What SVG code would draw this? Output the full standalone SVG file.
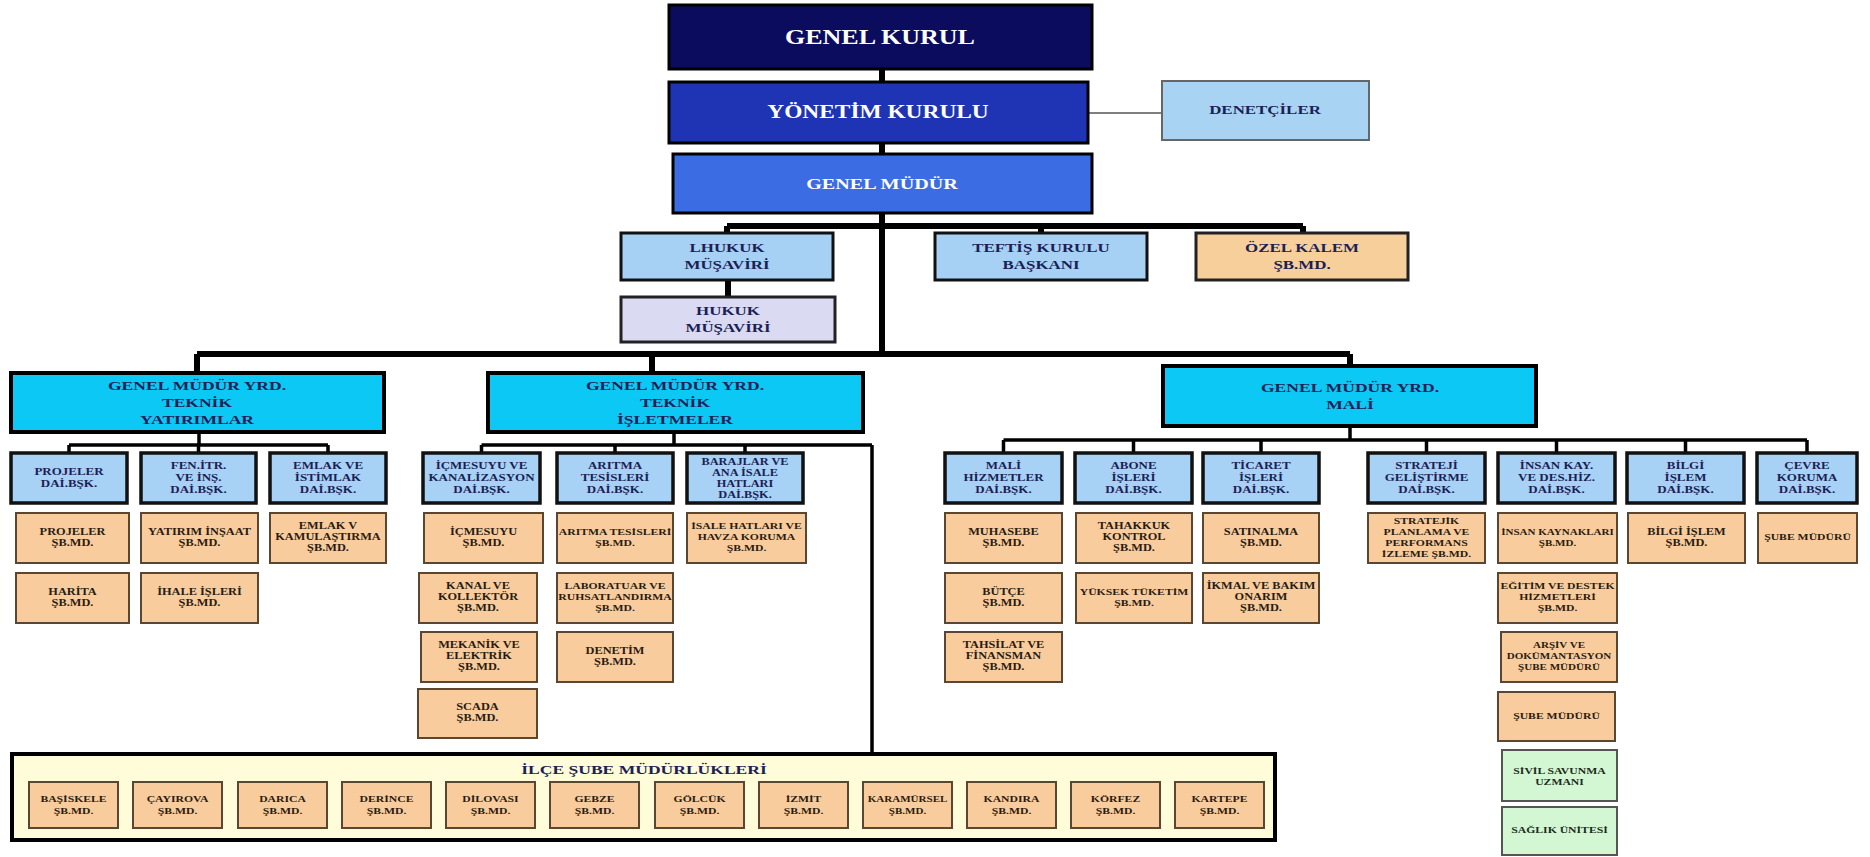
<svg xmlns="http://www.w3.org/2000/svg" width="1870" height="857" viewBox="0 0 1870 857">
<style>
text{font-family:"Liberation Serif","Times New Roman",serif;font-weight:bold;text-anchor:middle}
.w{fill:#fff}.n{fill:#1b1f55}.o{fill:#2a1c10}.g{fill:#1d2a1d}
.gk{fill:#0c0c5e;stroke:#000;stroke-width:3}
.yk{fill:#1e34b4;stroke:#000;stroke-width:3}
.gm{fill:#3b6ce4;stroke:#000;stroke-width:3}
.den{fill:#a9d3f3;stroke:#666;stroke-width:2}
.lb{fill:#a6d0f4;stroke:#111;stroke-width:3}
.pk{fill:#f7cf9b;stroke:#222;stroke-width:3}
.lv{fill:#dadaf3;stroke:#222;stroke-width:3}
.gmy{fill:#0cc8f4;stroke:#000;stroke-width:4}
.bl{fill:#a7d1f5;stroke:#111;stroke-width:3.5}
.or{fill:#f9cc9e;stroke:#5b4632;stroke-width:2}
.gr{fill:#d3f7d3;stroke:#555;stroke-width:2}
.ilce{fill:#fffcd9;stroke:#000;stroke-width:4}
.c1{stroke:#000;stroke-width:6;fill:none}
.c2{stroke:#000;stroke-width:3.5;fill:none}
.c3{stroke:#555;stroke-width:1.5;fill:none}
.f20{font-size:20px}.f18{font-size:18px}.f155{font-size:15.5px}.f13{font-size:13px}.f135{font-size:13.5px}.f10{font-size:10px}.f95{font-size:9.5px}.f9{font-size:9px}.f85{font-size:8.5px}
</style>
<rect width="1870" height="857" fill="#fff"/>
<g id="connectors">
<path class="c1" d="M882,69V82M882,143V154M882,213V354M727,226H1303M727,226V233M1041,226V233M1303,226V233M728,280V297M197,354H1350M197,354V373M652,354V373M1350,354V366"/>
<path class="c2" d="M199,432V445M69,445H328M69,445V453M198.5,445V453M328,445V453M674,432V445M481.5,445H872M481.5,445V453M615,445V453M745,445V453M872,445V754M1350,426V440M1003.5,440H1807M1003.5,440V453M1133.5,440V453M1261,440V453M1426.5,440V453M1556.5,440V453M1685.5,440V453M1807,440V453"/>
<path class="c3" d="M1088,113H1162"/>
</g>
<g id="genel-kurul"><rect class="gk" x="669" y="5" width="423" height="64"/><text class="w f20" transform="translate(880 0) scale(1.3 1)" y="44">GENEL KURUL</text></g>
<g id="yonetim-kurulu"><rect class="yk" x="669" y="82" width="419" height="61"/><text class="w f18" transform="translate(878 0) scale(1.3 1)" y="118">YÖNETİM KURULU</text></g>
<g id="genel-mudur"><rect class="gm" x="673" y="154" width="419" height="59"/><text class="w f155" transform="translate(882 0) scale(1.3 1)" y="189">GENEL MÜDÜR</text></g>
<g id="denetciler"><rect class="den" x="1162" y="81" width="207" height="59"/><text class="n f13" transform="translate(1265 0) scale(1.3 1)" y="114">DENETÇİLER</text></g>
<g id="lhukuk"><rect class="lb" x="621" y="233" width="212" height="47"/><text class="n f13" transform="translate(727 0) scale(1.3 1)"><tspan x="0" y="252">LHUKUK</tspan><tspan x="0" y="269">MÜŞAVİRİ</tspan></text></g>
<g id="teftis"><rect class="lb" x="935" y="233" width="212" height="47"/><text class="n f13" transform="translate(1041 0) scale(1.3 1)"><tspan x="0" y="252">TEFTİŞ KURULU</tspan><tspan x="0" y="269">BAŞKANI</tspan></text></g>
<g id="ozel-kalem"><rect class="pk" x="1196" y="233" width="212" height="47"/><text class="n f13" transform="translate(1302 0) scale(1.3 1)"><tspan x="0" y="252">ÖZEL KALEM</tspan><tspan x="0" y="269">ŞB.MD.</tspan></text></g>
<g id="hukuk"><rect class="lv" x="621" y="297" width="214" height="45"/><text class="n f13" transform="translate(728 0) scale(1.3 1)"><tspan x="0" y="315">HUKUK</tspan><tspan x="0" y="332">MÜŞAVİRİ</tspan></text></g>
<g id="gmy-yatirimlar"><rect class="gmy" x="11" y="373" width="373" height="59"/><text class="n f135" transform="translate(197 0) scale(1.3 1)"><tspan x="0" y="390.5">GENEL MÜDÜR YRD.</tspan><tspan x="0" y="407.5">TEKNİK</tspan><tspan x="0" y="424.5">YATIRIMLAR</tspan></text></g>
<g id="gmy-isletmeler"><rect class="gmy" x="488" y="373" width="375" height="59"/><text class="n f135" transform="translate(675 0) scale(1.3 1)"><tspan x="0" y="390.5">GENEL MÜDÜR YRD.</tspan><tspan x="0" y="407.5">TEKNİK</tspan><tspan x="0" y="424.5">İŞLETMELER</tspan></text></g>
<g id="gmy-mali"><rect class="gmy" x="1163" y="366" width="373" height="60"/><text class="n f135" transform="translate(1350 0) scale(1.3 1)"><tspan x="0" y="392">GENEL MÜDÜR YRD.</tspan><tspan x="0" y="409">MALİ</tspan></text></g>
<g id="projeler-db"><rect class="bl" x="11" y="453" width="116" height="50"/><text class="n f10" transform="translate(69 0) scale(1.3 1)"><tspan x="0" y="475.3">PROJELER</tspan><tspan x="0" y="487.3">DAİ.BŞK.</tspan></text></g>
<g id="fen-db"><rect class="bl" x="141" y="453" width="115" height="50"/><text class="n f10" transform="translate(198.5 0) scale(1.3 1)"><tspan x="0" y="469.3">FEN.İTR.</tspan><tspan x="0" y="481.3">VE İNŞ.</tspan><tspan x="0" y="493.3">DAİ.BŞK.</tspan></text></g>
<g id="emlak-db"><rect class="bl" x="270" y="453" width="116" height="50"/><text class="n f10" transform="translate(328 0) scale(1.3 1)"><tspan x="0" y="469.3">EMLAK VE</tspan><tspan x="0" y="481.3">İSTİMLAK</tspan><tspan x="0" y="493.3">DAİ.BŞK.</tspan></text></g>
<g id="icmesuyu-db"><rect class="bl" x="423" y="453" width="117" height="50"/><text class="n f10" transform="translate(481.5 0) scale(1.3 1)"><tspan x="0" y="469.3">İÇMESUYU VE</tspan><tspan x="0" y="481.3">KANALİZASYON</tspan><tspan x="0" y="493.3">DAİ.BŞK.</tspan></text></g>
<g id="aritma-db"><rect class="bl" x="557" y="453" width="116" height="50"/><text class="n f10" transform="translate(615 0) scale(1.3 1)"><tspan x="0" y="469.3">ARITMA</tspan><tspan x="0" y="481.3">TESİSLERİ</tspan><tspan x="0" y="493.3">DAİ.BŞK.</tspan></text></g>
<g id="barajlar-db"><rect class="bl" x="687" y="453" width="116" height="50"/><text class="n f95" transform="translate(745 0) scale(1.3 1)"><tspan x="0" y="465">BARAJLAR VE</tspan><tspan x="0" y="476">ANA İSALE</tspan><tspan x="0" y="487">HATLARI</tspan><tspan x="0" y="498">DAİ.BŞK.</tspan></text></g>
<g id="mali-db"><rect class="bl" x="945" y="453" width="117" height="50"/><text class="n f10" transform="translate(1003.5 0) scale(1.3 1)"><tspan x="0" y="469.3">MALİ</tspan><tspan x="0" y="481.3">HİZMETLER</tspan><tspan x="0" y="493.3">DAİ.BŞK.</tspan></text></g>
<g id="abone-db"><rect class="bl" x="1075" y="453" width="117" height="50"/><text class="n f10" transform="translate(1133.5 0) scale(1.3 1)"><tspan x="0" y="469.3">ABONE</tspan><tspan x="0" y="481.3">İŞLERİ</tspan><tspan x="0" y="493.3">DAİ.BŞK.</tspan></text></g>
<g id="ticaret-db"><rect class="bl" x="1203" y="453" width="116" height="50"/><text class="n f10" transform="translate(1261 0) scale(1.3 1)"><tspan x="0" y="469.3">TİCARET</tspan><tspan x="0" y="481.3">İŞLERİ</tspan><tspan x="0" y="493.3">DAİ.BŞK.</tspan></text></g>
<g id="strateji-db"><rect class="bl" x="1368" y="453" width="117" height="50"/><text class="n f10" transform="translate(1426.5 0) scale(1.3 1)"><tspan x="0" y="469.3">STRATEJİ</tspan><tspan x="0" y="481.3">GELİŞTİRME</tspan><tspan x="0" y="493.3">DAİ.BŞK.</tspan></text></g>
<g id="insan-db"><rect class="bl" x="1498" y="453" width="117" height="50"/><text class="n f10" transform="translate(1556.5 0) scale(1.3 1)"><tspan x="0" y="469.3">İNSAN KAY.</tspan><tspan x="0" y="481.3">VE DES.HİZ.</tspan><tspan x="0" y="493.3">DAİ.BŞK.</tspan></text></g>
<g id="bilgi-db"><rect class="bl" x="1627" y="453" width="117" height="50"/><text class="n f10" transform="translate(1685.5 0) scale(1.3 1)"><tspan x="0" y="469.3">BİLGİ</tspan><tspan x="0" y="481.3">İŞLEM</tspan><tspan x="0" y="493.3">DAİ.BŞK.</tspan></text></g>
<g id="cevre-db"><rect class="bl" x="1757" y="453" width="100" height="50"/><text class="n f10" transform="translate(1807 0) scale(1.3 1)"><tspan x="0" y="469.3">ÇEVRE</tspan><tspan x="0" y="481.3">KORUMA</tspan><tspan x="0" y="493.3">DAİ.BŞK.</tspan></text></g>
<g id="projeler-sb"><rect class="or" x="16" y="513" width="113" height="50"/><text class="o f95" transform="translate(72.5 0) scale(1.3 1)"><tspan x="0" y="534.6">PROJELER</tspan><tspan x="0" y="545.6">ŞB.MD.</tspan></text></g>
<g id="yatirim-sb"><rect class="or" x="141" y="513" width="117" height="50"/><text class="o f95" transform="translate(199.5 0) scale(1.3 1)"><tspan x="0" y="534.6">YATIRIM İNŞAAT</tspan><tspan x="0" y="545.6">ŞB.MD.</tspan></text></g>
<g id="emlak-sb"><rect class="or" x="270" y="513" width="116" height="50"/><text class="o f95" transform="translate(328 0) scale(1.3 1)"><tspan x="0" y="529.1">EMLAK V</tspan><tspan x="0" y="540.1">KAMULAŞTIRMA</tspan><tspan x="0" y="551.1">ŞB.MD.</tspan></text></g>
<g id="harita-sb"><rect class="or" x="16" y="573" width="113" height="50"/><text class="o f95" transform="translate(72.5 0) scale(1.3 1)"><tspan x="0" y="594.6">HARİTA</tspan><tspan x="0" y="605.6">ŞB.MD.</tspan></text></g>
<g id="ihale-sb"><rect class="or" x="141" y="573" width="117" height="50"/><text class="o f95" transform="translate(199.5 0) scale(1.3 1)"><tspan x="0" y="594.6">İHALE İŞLERİ</tspan><tspan x="0" y="605.6">ŞB.MD.</tspan></text></g>
<g id="icmesuyu-sb"><rect class="or" x="424" y="513" width="119" height="50"/><text class="o f95" transform="translate(483.5 0) scale(1.3 1)"><tspan x="0" y="534.6">İÇMESUYU</tspan><tspan x="0" y="545.6">ŞB.MD.</tspan></text></g>
<g id="kanal-sb"><rect class="or" x="419" y="573" width="118" height="50"/><text class="o f95" transform="translate(478 0) scale(1.3 1)"><tspan x="0" y="589.1">KANAL VE</tspan><tspan x="0" y="600.1">KOLLEKTÖR</tspan><tspan x="0" y="611.1">ŞB.MD.</tspan></text></g>
<g id="mekanik-sb"><rect class="or" x="421" y="632" width="116" height="50"/><text class="o f95" transform="translate(479 0) scale(1.3 1)"><tspan x="0" y="648.1">MEKANİK VE</tspan><tspan x="0" y="659.1">ELEKTRİK</tspan><tspan x="0" y="670.1">ŞB.MD.</tspan></text></g>
<g id="scada-sb"><rect class="or" x="418" y="689" width="119" height="49"/><text class="o f95" transform="translate(477.5 0) scale(1.3 1)"><tspan x="0" y="709.6">SCADA</tspan><tspan x="0" y="720.6">ŞB.MD.</tspan></text></g>
<g id="aritma-sb"><rect class="or" x="557" y="513" width="116" height="50"/><text class="o f9" transform="translate(615 0) scale(1.3 1)"><tspan x="0" y="534.6">ARITMA TESİSLERİ</tspan><tspan x="0" y="545.6">ŞB.MD.</tspan></text></g>
<g id="laboratuar-sb"><rect class="or" x="557" y="573" width="116" height="50"/><text class="o f9" transform="translate(615 0) scale(1.3 1)"><tspan x="0" y="589.1">LABORATUAR VE</tspan><tspan x="0" y="600.1">RUHSATLANDIRMA</tspan><tspan x="0" y="611.1">ŞB.MD.</tspan></text></g>
<g id="denetim-sb"><rect class="or" x="557" y="632" width="116" height="50"/><text class="o f95" transform="translate(615 0) scale(1.3 1)"><tspan x="0" y="653.6">DENETİM</tspan><tspan x="0" y="664.6">ŞB.MD.</tspan></text></g>
<g id="isale-sb"><rect class="or" x="687" y="513" width="119" height="50"/><text class="o f9" transform="translate(746.5 0) scale(1.3 1)"><tspan x="0" y="529.1">İSALE HATLARI VE</tspan><tspan x="0" y="540.1">HAVZA KORUMA</tspan><tspan x="0" y="551.1">ŞB.MD.</tspan></text></g>
<g id="muhasebe-sb"><rect class="or" x="945" y="513" width="117" height="50"/><text class="o f95" transform="translate(1003.5 0) scale(1.3 1)"><tspan x="0" y="534.6">MUHASEBE</tspan><tspan x="0" y="545.6">ŞB.MD.</tspan></text></g>
<g id="butce-sb"><rect class="or" x="945" y="573" width="117" height="50"/><text class="o f95" transform="translate(1003.5 0) scale(1.3 1)"><tspan x="0" y="594.6">BÜTÇE</tspan><tspan x="0" y="605.6">ŞB.MD.</tspan></text></g>
<g id="tahsilat-sb"><rect class="or" x="945" y="632" width="117" height="50"/><text class="o f95" transform="translate(1003.5 0) scale(1.3 1)"><tspan x="0" y="648.1">TAHSİLAT VE</tspan><tspan x="0" y="659.1">FİNANSMAN</tspan><tspan x="0" y="670.1">ŞB.MD.</tspan></text></g>
<g id="tahakkuk-sb"><rect class="or" x="1076" y="513" width="116" height="50"/><text class="o f95" transform="translate(1134 0) scale(1.3 1)"><tspan x="0" y="529.1">TAHAKKUK</tspan><tspan x="0" y="540.1">KONTROL</tspan><tspan x="0" y="551.1">ŞB.MD.</tspan></text></g>
<g id="yuksek-sb"><rect class="or" x="1076" y="573" width="116" height="50"/><text class="o f9" transform="translate(1134 0) scale(1.3 1)"><tspan x="0" y="594.6">YÜKSEK TÜKETİM</tspan><tspan x="0" y="605.6">ŞB.MD.</tspan></text></g>
<g id="satinalma-sb"><rect class="or" x="1203" y="513" width="116" height="50"/><text class="o f95" transform="translate(1261 0) scale(1.3 1)"><tspan x="0" y="534.6">SATINALMA</tspan><tspan x="0" y="545.6">ŞB.MD.</tspan></text></g>
<g id="ikmal-sb"><rect class="or" x="1203" y="573" width="116" height="50"/><text class="o f95" transform="translate(1261 0) scale(1.3 1)"><tspan x="0" y="589.1">İKMAL VE BAKIM</tspan><tspan x="0" y="600.1">ONARIM</tspan><tspan x="0" y="611.1">ŞB.MD.</tspan></text></g>
<g id="stratejik-sb"><rect class="or" x="1368" y="513" width="117" height="50"/><text class="o f9" transform="translate(1426.5 0) scale(1.3 1)"><tspan x="0" y="524">STRATEJİK</tspan><tspan x="0" y="535">PLANLAMA VE</tspan><tspan x="0" y="546">PERFORMANS</tspan><tspan x="0" y="557">İZLEME ŞB.MD.</tspan></text></g>
<g id="insan-sb"><rect class="or" x="1498" y="513" width="119" height="50"/><text class="o f85" transform="translate(1557.5 0) scale(1.3 1)"><tspan x="0" y="534.6">İNSAN KAYNAKLARI</tspan><tspan x="0" y="545.6">ŞB.MD.</tspan></text></g>
<g id="egitim-sb"><rect class="or" x="1498" y="573" width="119" height="50"/><text class="o f9" transform="translate(1557.5 0) scale(1.3 1)"><tspan x="0" y="589.1">EĞİTİM VE DESTEK</tspan><tspan x="0" y="600.1">HİZMETLERİ</tspan><tspan x="0" y="611.1">ŞB.MD.</tspan></text></g>
<g id="arsiv-sb"><rect class="or" x="1501" y="632" width="116" height="50"/><text class="o f85" transform="translate(1559 0) scale(1.3 1)"><tspan x="0" y="648.1">ARŞİV VE</tspan><tspan x="0" y="659.1">DOKÜMANTASYON</tspan><tspan x="0" y="670.1">ŞUBE MÜDÜRÜ</tspan></text></g>
<g id="sube-mudur-ik"><rect class="or" x="1498" y="692" width="117" height="49"/><text class="o f9" transform="translate(1556.5 0) scale(1.3 1)" y="719">ŞUBE MÜDÜRÜ</text></g>
<g id="sivil-savunma"><rect class="gr" x="1502" y="750" width="115" height="51"/><text class="g f9" transform="translate(1559.5 0) scale(1.3 1)"><tspan x="0" y="773.6">SİVİL SAVUNMA</tspan><tspan x="0" y="784.6">UZMANI</tspan></text></g>
<g id="saglik"><rect class="gr" x="1502" y="807" width="115" height="48"/><text class="g f9" transform="translate(1559.5 0) scale(1.3 1)" y="833">SAĞLIK ÜNİTESİ</text></g>
<g id="bilgi-sb"><rect class="or" x="1628" y="513" width="117" height="50"/><text class="o f95" transform="translate(1686.5 0) scale(1.3 1)"><tspan x="0" y="534.6">BİLGİ İŞLEM</tspan><tspan x="0" y="545.6">ŞB.MD.</tspan></text></g>
<g id="cevre-sb"><rect class="or" x="1758" y="513" width="99" height="50"/><text class="o f9" transform="translate(1807.5 0) scale(1.3 1)" y="540">ŞUBE MÜDÜRÜ</text></g>
<g id="ilce">
<rect class="ilce" x="12" y="754" width="1263" height="86"/>
<text class="n f135" transform="translate(644 0) scale(1.3 1)" y="774">İLÇE ŞUBE MÜDÜRLÜKLERİ</text>
</g>
<g id="basiskele"><rect class="or" x="29" y="782" width="89" height="46"/><text class="o f9" transform="translate(73.5 0) scale(1.3 1)"><tspan x="0" y="802">BAŞİSKELE</tspan><tspan x="0" y="814">ŞB.MD.</tspan></text></g>
<g id="cayirova"><rect class="or" x="133" y="782" width="89" height="46"/><text class="o f9" transform="translate(177.5 0) scale(1.3 1)"><tspan x="0" y="802">ÇAYIROVA</tspan><tspan x="0" y="814">ŞB.MD.</tspan></text></g>
<g id="darica"><rect class="or" x="238" y="782" width="89" height="46"/><text class="o f9" transform="translate(282.5 0) scale(1.3 1)"><tspan x="0" y="802">DARICA</tspan><tspan x="0" y="814">ŞB.MD.</tspan></text></g>
<g id="derince"><rect class="or" x="342" y="782" width="89" height="46"/><text class="o f9" transform="translate(386.5 0) scale(1.3 1)"><tspan x="0" y="802">DERİNCE</tspan><tspan x="0" y="814">ŞB.MD.</tspan></text></g>
<g id="dilovasi"><rect class="or" x="446" y="782" width="89" height="46"/><text class="o f9" transform="translate(490.5 0) scale(1.3 1)"><tspan x="0" y="802">DİLOVASI</tspan><tspan x="0" y="814">ŞB.MD.</tspan></text></g>
<g id="gebze"><rect class="or" x="550" y="782" width="89" height="46"/><text class="o f9" transform="translate(594.5 0) scale(1.3 1)"><tspan x="0" y="802">GEBZE</tspan><tspan x="0" y="814">ŞB.MD.</tspan></text></g>
<g id="golcuk"><rect class="or" x="655" y="782" width="89" height="46"/><text class="o f9" transform="translate(699.5 0) scale(1.3 1)"><tspan x="0" y="802">GÖLCÜK</tspan><tspan x="0" y="814">ŞB.MD.</tspan></text></g>
<g id="izmit"><rect class="or" x="759" y="782" width="89" height="46"/><text class="o f9" transform="translate(803.5 0) scale(1.3 1)"><tspan x="0" y="802">İZMİT</tspan><tspan x="0" y="814">ŞB.MD.</tspan></text></g>
<g id="karamursel"><rect class="or" x="863" y="782" width="89" height="46"/><text class="o f85" transform="translate(907.5 0) scale(1.3 1)"><tspan x="0" y="802">KARAMÜRSEL</tspan><tspan x="0" y="814">ŞB.MD.</tspan></text></g>
<g id="kandira"><rect class="or" x="967" y="782" width="89" height="46"/><text class="o f9" transform="translate(1011.5 0) scale(1.3 1)"><tspan x="0" y="802">KANDIRA</tspan><tspan x="0" y="814">ŞB.MD.</tspan></text></g>
<g id="korfez"><rect class="or" x="1071" y="782" width="89" height="46"/><text class="o f9" transform="translate(1115.5 0) scale(1.3 1)"><tspan x="0" y="802">KÖRFEZ</tspan><tspan x="0" y="814">ŞB.MD.</tspan></text></g>
<g id="kartepe"><rect class="or" x="1175" y="782" width="89" height="46"/><text class="o f9" transform="translate(1219.5 0) scale(1.3 1)"><tspan x="0" y="802">KARTEPE</tspan><tspan x="0" y="814">ŞB.MD.</tspan></text></g>
</svg>
